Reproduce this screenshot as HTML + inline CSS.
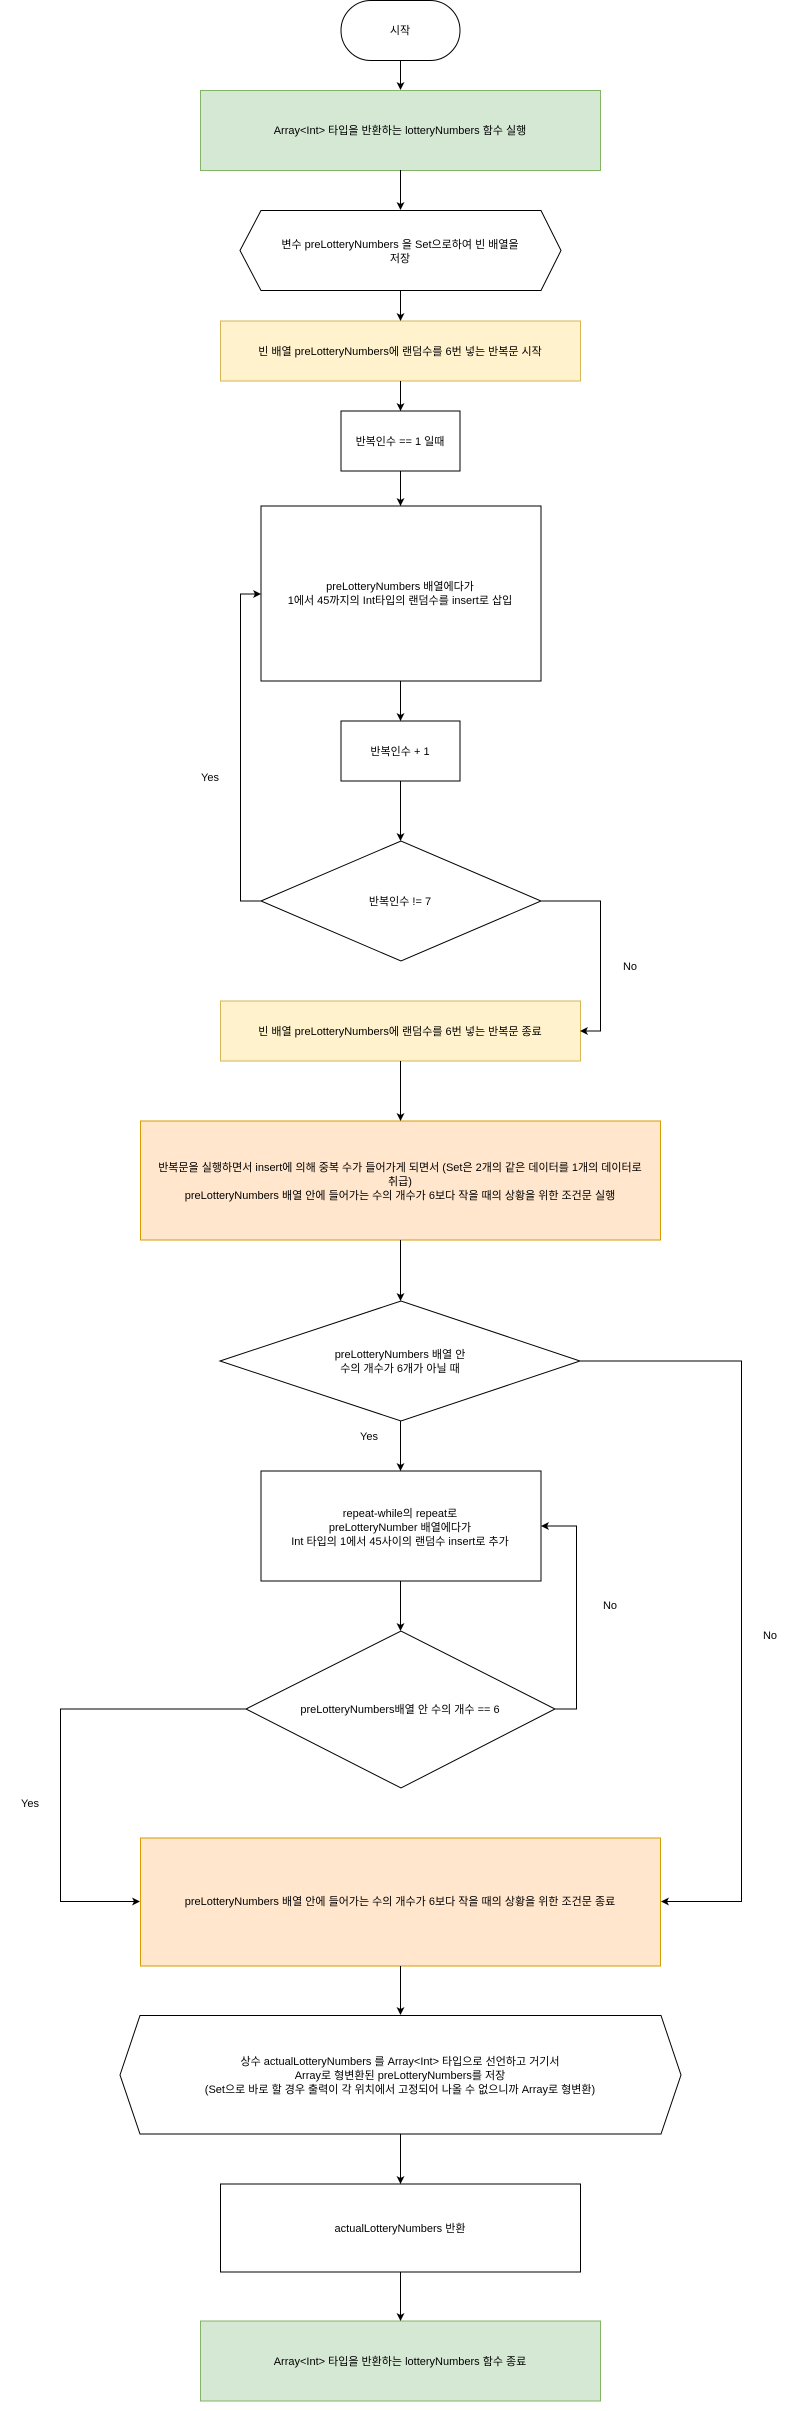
<!DOCTYPE html>
<html><head><meta charset="utf-8"><style>html,body{margin:0;padding:0;background:#fff}svg{display:block}text{font-family:"Liberation Sans","Noto Sans CJK KR",sans-serif;font-size:11px;fill:#000}</style></head>
<body>
<svg width="801" height="2411" viewBox="0 0 801 2411" xmlns="http://www.w3.org/2000/svg">
<defs><marker id="a" markerWidth="8" markerHeight="8" refX="7" refY="4" orient="auto" markerUnits="userSpaceOnUse"><path d="M0,0 L8,4 L0,8 L2,4 Z" fill="#000"/></marker></defs>
<g fill="none" stroke="#000" stroke-width="1">
<rect x="341" y="0.5" width="119" height="60" rx="30" fill="#fff"/>
<rect x="200.5" y="90.5" width="400" height="80" fill="#d5e8d4" stroke="#82b366"/>
<polygon points="240,250.5 261,210.5 541,210.5 561,250.5 541,290.5 261,290.5" fill="#fff"/>
<rect x="220.5" y="321" width="360" height="60" fill="#fff2cc" stroke="#d6b656"/>
<rect x="341" y="411" width="119" height="60" fill="#fff"/>
<rect x="261" y="506" width="280" height="175" fill="#fff"/>
<rect x="341" y="721" width="119" height="60" fill="#fff"/>
<polygon points="261,901 401,841 541,901 401,961" fill="#fff"/>
<rect x="220.5" y="1001" width="360" height="60" fill="#fff2cc" stroke="#d6b656"/>
<rect x="140.5" y="1121" width="520" height="119" fill="#ffe6cc" stroke="#d79b00"/>
<polygon points="220,1361 401,1301 580,1361 401,1421" fill="#fff"/>
<rect x="261" y="1471" width="280" height="110" fill="#fff"/>
<polygon points="246,1709 401,1631 555,1709 401,1788" fill="#fff"/>
<rect x="140.5" y="1838" width="520" height="128" fill="#ffe6cc" stroke="#d79b00"/>
<polygon points="120,2075 140,2015.5 661,2015.5 681,2075 661,2134 140,2134" fill="#fff"/>
<rect x="220.5" y="2184" width="360" height="88" fill="#fff"/>
<rect x="200.5" y="2321" width="400" height="80" fill="#d5e8d4" stroke="#82b366"/>

<path d="M400.5,60 V89" marker-end="url(#a)"/>
<path d="M400.5,170 V209" marker-end="url(#a)"/>
<path d="M400.5,291 V320" marker-end="url(#a)"/>
<path d="M400.5,381 V410" marker-end="url(#a)"/>
<path d="M400.5,471 V505" marker-end="url(#a)"/>
<path d="M400.5,681 V720" marker-end="url(#a)"/>
<path d="M400.5,781 V840" marker-end="url(#a)"/>
<path d="M261,901 H240.5 V594 H260" marker-end="url(#a)"/>
<path d="M541,901 H600.5 V1031 H581" marker-end="url(#a)"/>
<path d="M400.5,1061 V1120" marker-end="url(#a)"/>
<path d="M400.5,1240 V1300" marker-end="url(#a)"/>
<path d="M400.5,1421 V1470" marker-end="url(#a)"/>
<path d="M400.5,1581 V1630" marker-end="url(#a)"/>
<path d="M555,1709 H576.5 V1526 H542" marker-end="url(#a)"/>
<path d="M580,1361 H741.5 V1901.5 H662" marker-end="url(#a)"/>
<path d="M246,1709 H60.5 V1901.5 H139" marker-end="url(#a)"/>
<path d="M400.5,1966 V2014" marker-end="url(#a)"/>
<path d="M400.5,2134 V2183" marker-end="url(#a)"/>
<path d="M400.5,2272 V2320" marker-end="url(#a)"/>
</g>
<g text-anchor="middle">
<text x="400" y="34">시작</text>
<text x="400" y="134">Array&lt;Int&gt; 타입을 반환하는 lotteryNumbers 함수 실행</text>
<text x="400" y="248">변수 preLotteryNumbers 을 Set으로하여 빈 배열을</text>
<text x="400" y="262">저장</text>
<text x="400" y="355">빈 배열 preLotteryNumbers에 랜덤수를 6번 넣는 반복문 시작</text>
<text x="400" y="445">반복인수 == 1 일때</text>
<text x="400" y="590">preLotteryNumbers 배열에다가</text>
<text x="400" y="604">1에서 45까지의 Int타입의 랜덤수를 insert로 삽입</text>
<text x="400" y="755">반복인수 + 1</text>
<text x="400" y="905">반복인수 != 7</text>
<text x="400" y="1035">빈 배열 preLotteryNumbers에 랜덤수를 6번 넣는 반복문 종료</text>
<text x="400" y="1171">반복문을 실행하면서 insert에 의해  중복 수가 들어가게 되면서 (Set은 2개의 같은 데이터를 1개의 데이터로</text>
<text x="400" y="1185">취급)</text>
<text x="400" y="1199">preLotteryNumbers 배열 안에 들어가는 수의 개수가 6보다 작을 때의 상황을 위한 조건문 실행</text>
<text x="400" y="1358">preLotteryNumbers 배열 안</text>
<text x="400" y="1372">수의 개수가 6개가 아닐 때</text>
<text x="400" y="1517">repeat-while의 repeat로</text>
<text x="400" y="1531">preLotteryNumber 배열에다가</text>
<text x="400" y="1545">Int 타입의 1에서 45사이의 랜덤수 insert로 추가</text>
<text x="400" y="1713">preLotteryNumbers배열 안 수의 개수 == 6</text>
<text x="400" y="1905">preLotteryNumbers 배열 안에 들어가는 수의 개수가 6보다 작을 때의 상황을 위한 조건문 종료</text>
<text x="400" y="2065">상수 actualLotteryNumbers 를 Array&lt;Int&gt; 타입으로  선언하고 거기서</text>
<text x="400" y="2079">Array로 형변환된 preLotteryNumbers를 저장</text>
<text x="400" y="2093">(Set으로 바로 할 경우 출력이 각 위치에서 고정되어 나올 수 없으니까 Array로 형변환)</text>
<text x="400" y="2232">actualLotteryNumbers 반환</text>
<text x="400" y="2365">Array&lt;Int&gt; 타입을 반환하는 lotteryNumbers 함수 종료</text>
<text x="210" y="781">Yes</text>
<text x="630" y="970">No</text>
<text x="369" y="1440">Yes</text>
<text x="610" y="1609">No</text>
<text x="770" y="1639">No</text>
<text x="30" y="1807">Yes</text>
</g>
</svg>
</body></html>
